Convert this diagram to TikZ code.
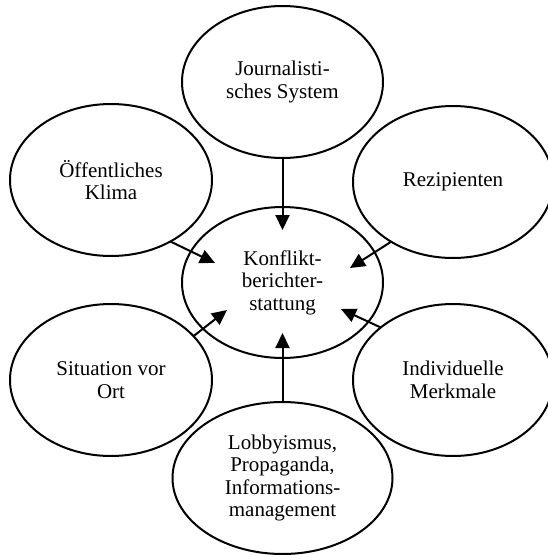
\documentclass[tikz,border=0pt]{standalone}
\usepackage{fontspec}
\setmainfont{Liberation Serif}
\usetikzlibrary{shapes.geometric,arrows.meta}
\begin{document}
\begin{tikzpicture}[x=1pt,y=-1pt,
  bubble/.style={draw,ellipse,line width=2pt,inner sep=0pt,outer sep=0pt,
    align=center,font=\fontsize{21}{22.5}\selectfont},
  feed/.style={line width=2pt,-{Triangle[length=15pt,width=14pt]}}]
\useasboundingbox (0,0) rectangle (548,555);
\begin{scope}
\clip (0,0) rectangle (548,555);
\node[bubble,minimum width=201pt,minimum height=152pt] (j) at (282.5,82) {Journalisti-\\sches System};
\node[bubble,minimum width=201pt,minimum height=151pt] (c) at (282.5,282.5) {Konflikt-\\berichter-\\stattung};
\node[bubble,minimum width=202pt,minimum height=152pt] (o) at (111,180) {Öffentliches\\Klima};
\node[bubble,minimum width=200pt,minimum height=152pt] (r) at (453,182) {Rezipienten};
\node[bubble,minimum width=202pt,minimum height=152pt] (s) at (111,380) {Situation vor\\Ort};
\node[bubble,minimum width=200pt,minimum height=152pt] (i) at (453,380) {Individuelle\\Merkmale};
\node[bubble,minimum width=220pt,minimum height=152pt] (l) at (282.5,478) {Lobbyismus,\\Propaganda,\\Informations-\\management};
\end{scope}
\coordinate (tj) at (282.5,230);
\coordinate (to) at (215,263);
\coordinate (tr) at (350,268);
\coordinate (ts) at (227,310);
\coordinate (ti) at (341,309);
\coordinate (tl) at (282.5,333);
\draw[feed] (j.south) -- (tj);
\draw[feed] (o.-46.4) -- (to);
\draw[feed] (r.-136.4) -- (tr);
\draw[feed] (s.28.8) -- (ts);
\draw[feed] (i.144.9) -- (ti);
\draw[feed] (l.north) -- (tl);
\end{tikzpicture}
\end{document}
